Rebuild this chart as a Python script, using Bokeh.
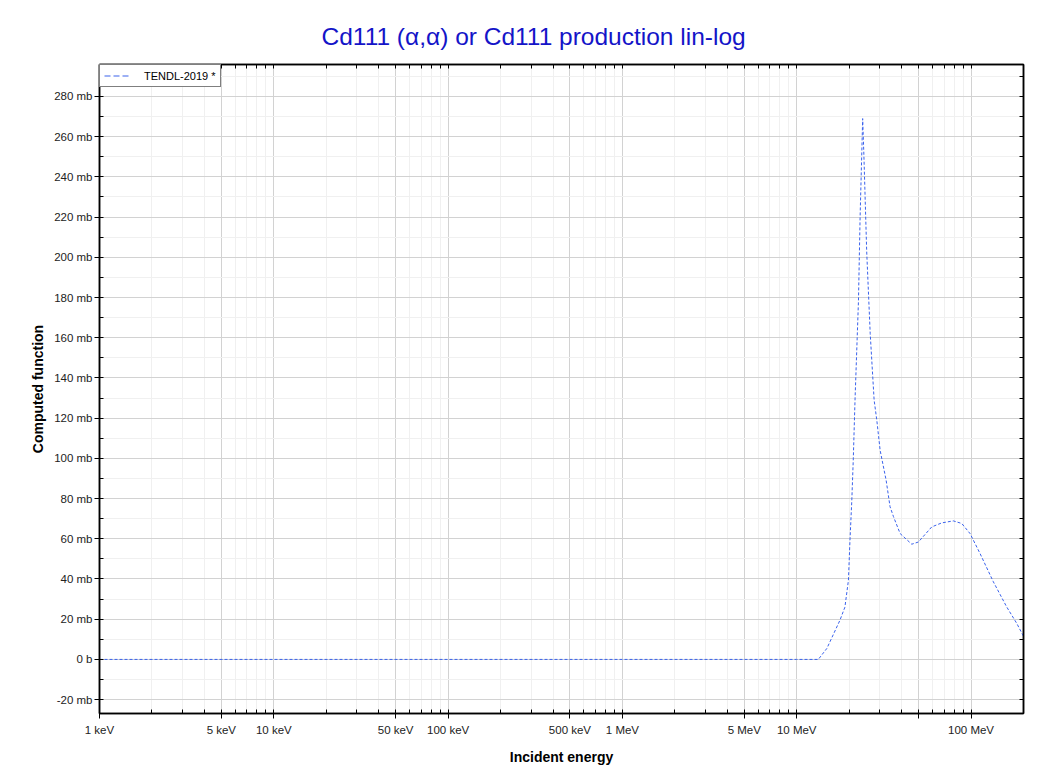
from bokeh.plotting import figure
from bokeh.models import FixedTicker, LogAxis, LinearAxis, Range1d, CustomJSTickFormatter
from bokeh.embed import file_html
from bokeh.resources import INLINE

# ---- data ----
energy_mev = [0.001, 0.01, 0.1, 1.0, 10.0, 13.3, 14.9, 17.7, 18.9, 19.8, 20.2, 20.7,
              21.1, 21.6, 22.6, 23.1, 23.9, 24.3, 25.2, 26.4, 27.8, 28.8, 30.1,
              32.6, 34.3, 35.9, 39.2, 45.7, 49.9, 59.5, 67.9, 79.2, 88.5, 98.7,
              112.6, 134.3, 160.2, 183.0, 200.0]
xs_mb = [0, 0, 0, 0, 0, 0, 5.5, 19.5, 26, 39.4, 59, 79,
         99, 129, 178, 220, 269, 250, 203, 162, 129, 119, 104,
         89, 76, 71, 62.6, 57.3, 58.4, 65.9, 67.9, 68.9, 67.6, 62.6,
         52.7, 38.6, 26.1, 17.9, 11.5]
series_name = "TENDL-2019 *"

x_ticks_kev = [1, 5, 10, 50, 100, 500, 1000, 5000, 10000, 50000, 100000]
x_tick_labels = ["1 keV", "5 keV", "10 keV", "50 keV", "100 keV", "500 keV",
                 "1 MeV", "5 MeV", "10 MeV", "", "100 MeV"]
x_minor_kev = [m * 10 ** d for d in range(0, 6) for m in (2, 3, 4, 6, 7, 8, 9)]
x_all_kev = sorted(x_ticks_kev + x_minor_kev)

y_ticks = [-20, 0, 20, 40, 60, 80, 100, 120, 140, 160, 180, 200, 220, 240, 260, 280]
y_tick_labels = ["-20 mb", "0 b", "20 mb", "40 mb", "60 mb", "80 mb", "100 mb", "120 mb",
                 "140 mb", "160 mb", "180 mb", "200 mb", "220 mb", "240 mb", "260 mb", "280 mb"]
y_minor = [-30, -10, 10, 30, 50, 70, 90, 110, 130, 150, 170, 190, 210, 230, 250, 270, 290]
y_all = sorted(y_ticks + y_minor)

FONT = "Liberation Sans"
LINE_COLOR = "#3a62ec"

energy_kev = [e * 1000.0 for e in energy_mev]

p = figure(width=1040, height=771, x_axis_type="log",
           x_range=Range1d(1, 200000), y_range=Range1d(-26.9, 295.9),
           output_backend="svg", toolbar_location=None,
           min_border_left=99, min_border_right=17, min_border_top=64, min_border_bottom=58)

p.title.text = "Cd111 (\u03b1,\u03b1) or Cd111 production lin-log"
p.title.text_font = FONT
p.title.text_font_size = "24.5px"
p.title.text_font_style = "normal"
p.title.text_color = "#1414c8"
p.title.align = "left"
p.title.offset = 222
p.title.standoff = 30

p.line(energy_kev, xs_mb, line_color=LINE_COLOR, line_width=1, line_dash="3 2")
# legend proxy (no visible data) so the legend sample can use the longer dash
p.line([1, 1], [float("nan"), float("nan")], line_color=LINE_COLOR, line_width=1.2,
       line_dash="6 3", legend_label=series_name)

# axes
xt = FixedTicker(ticks=x_ticks_kev, minor_ticks=x_minor_kev)
yt = FixedTicker(ticks=y_ticks, minor_ticks=y_minor)

xa = p.xaxis[0]
xa.ticker = xt
xa.major_label_overrides = dict(zip(x_ticks_kev, x_tick_labels))
ya = p.yaxis[0]
ya.ticker = yt
ya.major_label_overrides = dict(zip(y_ticks, y_tick_labels))

for ax in (xa, ya):
    ax.axis_line_color = "black"
    ax.axis_line_width = 1.5
    ax.major_tick_line_color = "black"
    ax.minor_tick_line_color = "black"
    ax.major_tick_in = 4
    ax.major_tick_out = 5
    ax.minor_tick_in = 4
    ax.minor_tick_out = 0
    ax.major_label_text_font = FONT
    ax.major_label_text_font_size = "11.5px"
    ax.major_label_text_color = "#222222"
    ax.axis_label_text_font = FONT
    ax.axis_label_text_font_size = "14px"
    ax.axis_label_text_font_style = "bold"
    ax.axis_label_text_color = "black"

xa.axis_label = "Incident energy"
xa.major_label_standoff = 5
xa.axis_label_standoff = 10
ya.axis_label = "Computed function"
ya.major_label_standoff = 2
ya.axis_label_standoff = 5

blank = CustomJSTickFormatter(code="return ''")

top = LogAxis(ticker=FixedTicker(ticks=x_all_kev, minor_ticks=[]), formatter=blank)
top.major_label_standoff = 0
top.major_tick_in = 4
top.major_tick_out = 0
top.axis_line_width = 1.5
top.axis_line_color = "black"
p.add_layout(top, "above")

right = LinearAxis(ticker=FixedTicker(ticks=y_all, minor_ticks=[]), formatter=blank)
right.major_label_standoff = 0
right.major_tick_in = 4
right.major_tick_out = 0
right.axis_line_width = 1.5
right.axis_line_color = "black"
p.add_layout(right, "right")

# grids
for g in (p.xgrid[0], p.ygrid[0]):
    g.grid_line_color = "#d2d2d2"
    g.grid_line_width = 1
    g.minor_grid_line_color = "#f0f0f0"
    g.minor_grid_line_width = 1

p.outline_line_color = "black"
p.outline_line_width = 1.5
p.background_fill_color = "white"
p.border_fill_color = "white"

# legend
lg = p.legend[0]
lg.location = "top_left"
lg.margin = 0
lg.padding = 4
lg.spacing = 0
lg.glyph_width = 25
lg.glyph_height = 13
lg.label_height = 13
lg.label_standoff = 15
lg.label_text_font = FONT
lg.label_text_font_size = "11px"
lg.label_text_color = "black"
lg.border_line_color = "black"
lg.border_line_width = 1
lg.background_fill_color = "white"
lg.background_fill_alpha = 1

open("out.html", "w").write(file_html(p, INLINE))
